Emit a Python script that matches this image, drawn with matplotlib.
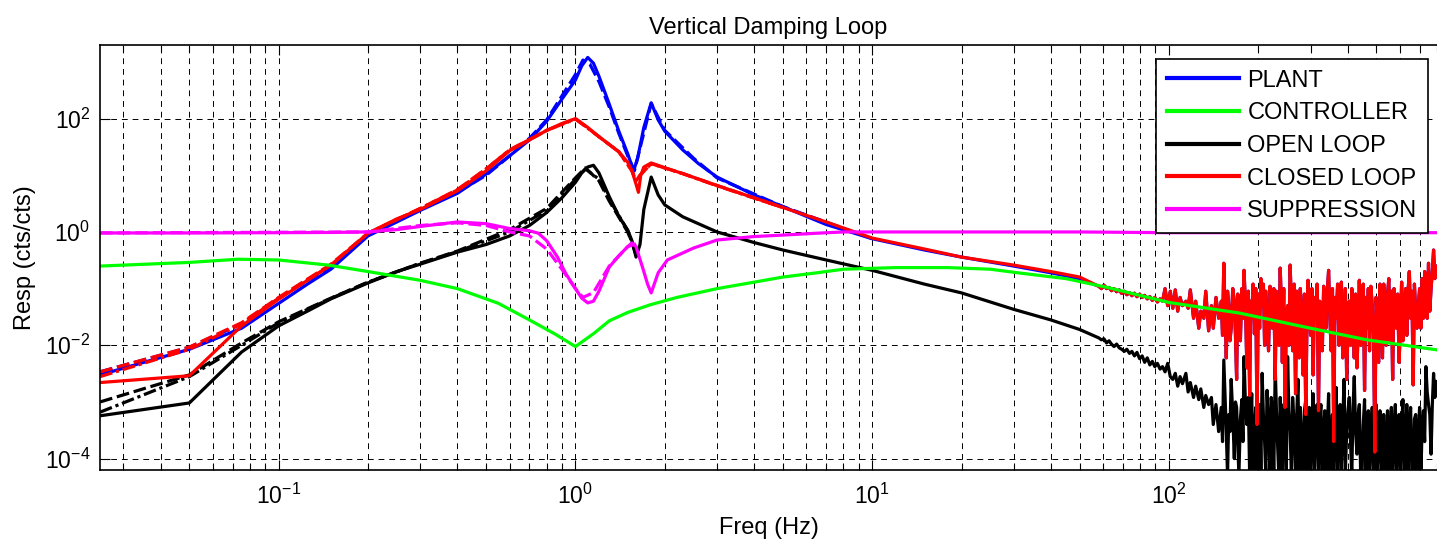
import matplotlib
matplotlib.use("Agg")
import matplotlib.pyplot as plt
from matplotlib.ticker import LogLocator, NullLocator, NullFormatter
from matplotlib.lines import Line2D

plt.rcParams['font.family'] = ['Liberation Sans', 'DejaVu Sans']
plt.rcParams['mathtext.fontset'] = 'custom'
plt.rcParams['mathtext.rm'] = 'Liberation Sans'

# ---------------- data ----------------
# PLANT, solid (above 58 Hz it sits under the closed loop trace)
plant_f = [0.025, 0.05, 0.075, 0.1, 0.125, 0.15, 0.2, 0.25, 0.3, 0.4, 0.5, 0.6, 0.7, 0.8,
           0.9, 1.0, 1.05, 1.1, 1.15, 1.2, 1.3, 1.4, 1.5, 1.57, 1.62, 1.7, 1.8, 1.9, 2.0,
           2.3, 2.6, 3.0, 4.0, 5.0, 7.0, 10, 15, 20, 30, 40, 50]
plant_v = [0.0030, 0.0085, 0.020, 0.055, 0.12, 0.22, 0.85, 1.5, 2.4, 4.8, 10.5, 22, 42, 90,
           220, 480, 850, 1200, 950, 560, 180, 60, 24, 12, 20, 70, 190, 95, 60,
           28, 16, 9.3, 4.5, 2.8, 1.35, 0.76, 0.48, 0.36, 0.25, 0.19, 0.15]
# PLANT, dashed
plant2_f = [0.025, 0.05, 0.075, 0.1, 0.15, 0.2, 0.3, 0.4, 0.5, 0.6, 0.7, 0.8, 0.9, 1.0,
            1.06, 1.12, 1.2, 1.3, 1.4, 1.5, 1.58, 1.65, 1.8, 2.0, 2.5, 3.0, 5.0, 10]
plant2_v = [0.0034, 0.0092, 0.024, 0.068, 0.25, 0.9, 2.5, 5.0, 10, 22, 45, 95, 250, 600,
            1080, 900, 450, 160, 55, 22, 12, 30, 185, 62, 20, 9.0, 2.8, 0.76]

# CONTROLLER
ctrl_f = [0.025, 0.05, 0.073, 0.1, 0.147, 0.2, 0.3, 0.4, 0.55, 0.7, 0.85, 1.0, 1.15, 1.3,
          1.5, 1.79, 2.2, 3.0, 4.0, 5.0, 6.5, 8.0, 12, 18, 25, 31, 45, 62, 100, 173, 300,
          464, 800]
ctrl_v = [0.25, 0.29, 0.33, 0.32, 0.26, 0.2, 0.14, 0.10, 0.055, 0.028, 0.016, 0.0095, 0.016,
          0.027, 0.038, 0.052, 0.07, 0.10, 0.13, 0.16, 0.19, 0.22, 0.235, 0.235, 0.22, 0.19,
          0.15, 0.105, 0.057, 0.037, 0.02, 0.0125, 0.0083]

# noisy high end, part 1 (58 - 147 Hz)
hf1_f = [58, 59.2, 60.4, 61.6, 62.8, 64, 65.3, 66.6, 68, 69.3,
         70.7, 72.1, 73.6, 75, 76.5, 78, 79.6, 81.2, 82.8, 84.5,
         86.2, 87.9, 89.6, 91.4, 93.3, 95.1, 97, 99, 101, 103,
         105, 107, 109, 111, 114, 116, 118, 121, 123, 126,
         128, 131, 133, 136, 139, 141, 144, 147]
# noisy high end, part 2 (150 - 795 Hz)
hf2_f = [150, 151.5, 153, 154.5, 156, 157.5, 159, 160.5, 162, 164,
         166, 167.5, 169, 170.5, 172, 174, 176, 177.5, 179, 181,
         183, 185, 187, 188.5, 190, 192, 194, 196, 198, 200,
         202, 204, 206, 208, 210, 212, 214, 216.5, 219, 221,
         223, 225.5, 228, 230, 232, 234.5, 237, 239, 241, 243.5,
         246, 248.5, 251, 253.5, 256, 258.5, 261, 264, 267, 269.5,
         272, 274.5, 277, 280, 283, 286, 289, 291.5, 294, 297,
         300, 303, 306, 309, 312, 315.5, 319, 322, 325, 328.5,
         332, 335, 338, 341.5, 345, 348.5, 352, 355.5, 359, 362.5,
         366, 370, 374, 377.5, 381, 385, 389, 393, 397, 401,
         405, 409, 413, 417, 421, 425.5, 430, 434, 438, 442.5,
         447, 451.5, 456, 460.5, 465, 469.5, 474, 479, 484, 489,
         494, 498.5, 503, 508.5, 514, 519, 524, 529, 534, 539.5,
         545, 550.5, 556, 561.5, 567, 573, 579, 584.5, 590, 596,
         602, 608, 614, 620.5, 627, 633, 639, 645.5, 652, 658.5,
         665, 671.5, 678, 685, 692, 699, 706, 713, 720, 727,
         734, 741.5, 749, 756.5, 764, 771.5, 779, 787, 795]

# OPEN LOOP, solid
open_f = [0.025, 0.05, 0.075, 0.1, 0.125, 0.15, 0.2, 0.25, 0.3, 0.4, 0.5, 0.6, 0.7, 0.8,
          0.9, 1.0, 1.05, 1.1, 1.15, 1.2, 1.3, 1.4, 1.5, 1.55, 1.6, 1.65, 1.7, 1.8, 1.9,
          2.0, 2.3, 3.0, 4.0, 5.0, 7.0, 10, 15, 20, 30, 40, 50]
open_v = [5.7e-4, 9.6e-4, 0.0076, 0.022, 0.04, 0.066, 0.126, 0.2, 0.27, 0.44, 0.6, 0.85,
          1.3, 2.2, 4.0, 7.5, 11, 14, 15, 11, 4.2, 1.9, 1.08, 0.7, 0.36, 0.6, 2.5, 9.3, 4.5,
          3.0, 1.85, 1.0, 0.65, 0.48, 0.32, 0.21, 0.12, 0.084, 0.043, 0.028, 0.019]
open_hf1 = [0.0135, 0.0125, 0.013, 0.011, 0.012, 0.0105, 0.0095, 0.0105, 0.009, 0.0085,
            0.0078, 0.0085, 0.0072, 0.0078, 0.0065, 0.0075, 0.0058, 0.0065, 0.005, 0.006,
            0.0045, 0.0052, 0.0042, 0.0048, 0.0038, 0.0042, 0.0034, 0.0048, 0.0028, 0.0025,
            0.0032, 0.0019, 0.0028, 0.0021, 0.0032, 0.0015, 0.0022, 0.0012, 0.0019, 0.0011,
            0.0017, 0.0008, 0.0013, 0.0009, 0.0012, 0.0004, 0.0009, 0.0003]
open_hf2 = [0.0008, 0.0002, 0.0055, 0.0012, 0.0003, 0.00005, 0.0006, 0.0003, 0.0025, 0.0006,
            0.0001, 0.001, 0.0008, 0.0002, 0.00005, 0.0005, 0.0011, 0.0002, 0.0063, 0.0009,
            0.0004, 0.0012, 0.00005, 0.0005, 0.0014, 0.00005, 0.0003, 0.0008, 0.00004, 0.0004,
            0.0009, 0.00006, 0.0032, 0.0006, 0.0002, 0.00005, 0.0016, 0.0004, 0.00005, 0.0012,
            0.0007, 0.00005, 0.0042, 0.0008, 0.0002, 0.00005, 0.0012, 0.0003, 0.00005, 0.0009,
            0.0006, 0.00005, 0.0063, 0.0007, 0.0003, 0.00005, 0.0012, 0.0004, 0.00005, 0.0006,
            0.0025, 0.00005, 0.0008, 0.0002, 0.00004, 0.0007, 0.0011, 0.00005, 0.0002, 0.0008,
            0.00005, 0.0003, 0.0014, 0.00005, 0.0004, 0.0009, 0.00004, 0.0005, 0.0009, 0.00005,
            0.0003, 0.0007, 0.00005, 0.0003, 0.0014, 0.00005, 0.0002, 0.0006, 0.00004, 0.0004,
            0.0018, 0.00005, 0.0005, 0.0009, 0.00005, 0.0004, 0.0025, 0.00006, 0.0003, 0.0007,
            0.0012, 0.0002, 0.00005, 0.0008, 0.0028, 0.0003, 0.00012, 0.0006, 0.0009, 0.00005,
            0.00005, 0.0004, 0.0011, 0.00005, 0.0003, 0.0007, 0.00004, 0.0003, 0.0008, 0.00005,
            0.0003, 0.0009, 0.00005, 0.0002, 0.0007, 0.00005, 0.0002, 0.0006, 0.00005, 0.0002,
            0.0007, 0.00005, 0.0003, 0.0008, 0.00004, 0.0003, 0.0009, 0.00005, 0.0002, 0.0006,
            0.00005, 0.0003, 0.0011, 0.00005, 0.0003, 0.0009, 0.00005, 0.0004, 0.0008, 0.00005,
            0.00004, 0.0005, 0.0006, 0.00005, 0.0003, 0.0008, 0.00005, 0.0004, 0.0007, 0.0002,
            0.0042, 0.0015, 0.0009, 0.0006, 0.00012, 0.0009, 0.0032, 0.0012, 0.0023]
# OPEN LOOP, dashed and dash-dot
open2_f = [0.025, 0.05, 0.075, 0.1, 0.15, 0.2, 0.3, 0.4, 0.6, 0.8, 1.0, 1.08, 1.2, 1.3,
           1.5, 1.6]
open2_v = [0.0010, 0.0030, 0.011, 0.026, 0.068, 0.13, 0.28, 0.46, 1.1, 2.6, 9.0, 13.5, 8.0,
           3.5, 1.0, 0.42]
open3_v = [0.00066, 0.0028, 0.010, 0.025, 0.067, 0.13, 0.28, 0.45, 1.0, 2.4, 8.5, 13.0,
           8.5, 3.8, 1.05, 0.4]

# CLOSED LOOP, solid
closed_f = [0.025, 0.05, 0.075, 0.1, 0.125, 0.15, 0.2, 0.25, 0.3, 0.4, 0.5, 0.6, 0.7, 0.8,
            0.9, 1.0, 1.1, 1.2, 1.3, 1.4, 1.5, 1.55, 1.6, 1.63, 1.66, 1.7, 1.8, 2.0, 2.3,
            3.0, 4.0, 5.0, 7.0, 10, 15, 20, 30, 40, 50]
closed_v = [0.0022, 0.0029, 0.022, 0.065, 0.14, 0.26, 0.95, 1.7, 2.5, 5.3, 12, 27, 42, 62,
            82, 100, 70, 48, 35, 26, 17, 12, 7, 5, 10, 14, 16.5, 13.6, 10.7,
            6.6, 4.0, 2.7, 1.5, 0.78, 0.5, 0.36, 0.26, 0.2, 0.16]
closed_hf1 = [0.11, 0.10, 0.115, 0.10, 0.105, 0.092, 0.10, 0.088, 0.095, 0.082,
              0.09, 0.078, 0.085, 0.075, 0.083, 0.072, 0.08, 0.07, 0.076, 0.066,
              0.072, 0.062, 0.07, 0.058, 0.066, 0.06, 0.10, 0.05, 0.09, 0.045,
              0.095, 0.04, 0.07, 0.05, 0.06, 0.045, 0.095, 0.03, 0.06, 0.02,
              0.04, 0.03, 0.09, 0.018, 0.05, 0.02, 0.07, 0.03]
closed_hf2 = [0.06, 0.015, 0.28, 0.04, 0.006, 0.09, 0.05, 0.012, 0.02, 0.1,
              0.06, 0.015, 0.0025, 0.08, 0.03, 0.012, 0.1, 0.03, 0.21, 0.05,
              0.004, 0.09, 0.0013, 0.06, 0.03, 0.12, 0.016, 0.1, 0.0004, 0.08,
              0.02, 0.15, 0.05, 0.12, 0.01, 0.09, 0.03, 0.008, 0.11, 0.05,
              0.02, 0.1, 0.0025, 0.09, 0.04, 0.01, 0.23, 0.06, 0.005, 0.1,
              0.0008, 0.03, 0.05, 0.01, 0.26, 0.05, 0.008, 0.12, 0.0014, 0.09,
              0.04, 0.006, 0.1, 0.03, 0.003, 0.08, 0.0006, 0.02, 0.14, 0.04,
              0.015, 0.1, 0.003, 0.07, 0.03, 0.12, 0.0007, 0.06, 0.03, 0.008,
              0.11, 0.04, 0.02, 0.09, 0.21, 0.03, 0.008, 0.1, 0.0002, 0.07,
              0.03, 0.12, 0.01, 0.05, 0.13, 0.006, 0.02, 0.1, 0.0025, 0.02,
              0.06, 0.01, 0.1, 0.03, 0.006, 0.08, 0.004, 0.02, 0.14, 0.01,
              0.03, 0.12, 0.0016, 0.07, 0.02, 0.1, 0.008, 0.11, 0.05, 0.015,
              0.00013, 0.07, 0.03, 0.005, 0.12, 0.04, 0.006, 0.12, 0.05, 0.01,
              0.08, 0.15, 0.012, 0.09, 0.0025, 0.1, 0.06, 0.02, 0.08, 0.005,
              0.02, 0.13, 0.012, 0.04, 0.1, 0.015, 0.09, 0.2, 0.03, 0.09,
              0.002, 0.12, 0.04, 0.02, 0.05, 0.1, 0.02, 0.15, 0.03, 0.2,
              0.1, 0.03, 0.28, 0.04, 0.1, 0.2, 0.48, 0.15, 0.25]
# CLOSED LOOP, dashed and dash-dot
closed2_f = [0.025, 0.05, 0.075, 0.1, 0.15, 0.2, 0.3, 0.4, 0.5, 0.6, 0.8, 1.0, 1.2, 1.4,
             1.55, 1.6, 1.65, 1.8, 2.3, 3.0, 5.0]
closed2_v = [0.0034, 0.0093, 0.025, 0.07, 0.27, 0.95, 2.6, 5.6, 13, 28, 62, 100, 48, 26,
             12, 8, 10, 16, 10.7, 6.6, 2.7]
closed3_v = [0.0028, 0.0085, 0.024, 0.068, 0.26, 0.95, 2.6, 5.5, 13, 28, 62, 98, 48, 26,
             12, 8, 10, 16, 10.7, 6.5, 2.7]

# SUPPRESSION, solid
supp_f = [0.025, 0.05, 0.1, 0.15, 0.2, 0.25, 0.3, 0.4, 0.5, 0.6, 0.7, 0.75, 0.8, 0.87,
          0.93, 1.0, 1.05, 1.1, 1.15, 1.2, 1.3, 1.4, 1.5, 1.55, 1.6, 1.7, 1.75, 1.8, 1.9,
          2.04, 2.5, 3.0, 4.0, 5.0, 6.5, 8.0, 20, 50, 100, 800]
supp_v = [0.96, 0.96, 0.97, 0.98, 1.0, 1.1, 1.25, 1.5, 1.4, 1.15, 1.05, 0.95, 0.7, 0.36,
          0.18, 0.10, 0.068, 0.056, 0.06, 0.09, 0.24, 0.38, 0.55, 0.64, 0.55, 0.2, 0.12,
          0.084, 0.19, 0.32, 0.52, 0.72, 0.83, 0.88, 0.95, 1.0, 1.0, 1.0, 0.97, 0.97]
# SUPPRESSION, dashed
supp2_f = [0.025, 0.2, 0.3, 0.4, 0.5, 0.6, 0.7, 0.8, 0.9, 1.0, 1.06, 1.15, 1.3, 1.5, 1.6]
supp2_v = [0.96, 1.0, 1.3, 1.45, 1.3, 1.0, 0.85, 0.5, 0.22, 0.1, 0.07, 0.085, 0.25, 0.55,
           0.62]

labels = ['PLANT', 'CONTROLLER', 'OPEN LOOP', 'CLOSED LOOP', 'SUPPRESSION']
colors = ['#0000ff', '#00ff00', '#000000', '#ff0000', '#ff00ff']

# ---------------- figure ----------------
fig = plt.figure(figsize=(14.37, 5.48), dpi=100)
ax = fig.add_axes([100 / 1437, 78 / 548, 1337 / 1437, 425 / 548])

hf_f = hf1_f + hf2_f
lw = 2.3
dash = (0, (4, 1.5))
dashdot = (0, (4, 1.2, 1, 1.2))
ax.plot(plant_f + hf_f, plant_v + closed_hf1 + closed_hf2, color=colors[0], lw=lw, zorder=2)
ax.plot(plant2_f, plant2_v, color=colors[0], lw=lw, ls=dash, zorder=2)
ax.plot(open_f + hf_f, open_v + open_hf1 + open_hf2, color=colors[2], lw=lw, zorder=2.1)
ax.plot(open2_f, open2_v, color=colors[2], lw=lw, ls=dash, zorder=2.1)
ax.plot(open2_f, open3_v, color=colors[2], lw=lw, ls=dashdot, zorder=2.1)
ax.plot(closed_f + hf_f, closed_v + closed_hf1 + closed_hf2, color=colors[3], lw=lw,
        zorder=2.2)
ax.plot(closed2_f, closed2_v, color=colors[3], lw=lw, ls=dash, zorder=2.2)
ax.plot(closed2_f, closed3_v, color=colors[3], lw=lw, ls=dashdot, zorder=2.2)
ax.plot(ctrl_f, ctrl_v, color=colors[1], lw=lw, zorder=2.3)
ax.plot(supp_f, supp_v, color=colors[4], lw=lw, zorder=2.4)
ax.plot(supp2_f, supp2_v, color=colors[4], lw=lw, ls=dash, zorder=2.4)

ax.set_xscale('log')
ax.set_yscale('log')
ax.set_xlim(0.025, 800)
ax.set_ylim(6.3e-5, 1990)

ax.xaxis.set_major_locator(LogLocator(base=10, numticks=10))
ax.xaxis.set_minor_locator(LogLocator(base=10, subs=range(2, 10), numticks=20))
ax.xaxis.set_minor_formatter(NullFormatter())
ax.set_yticks([1e-4, 1e-2, 1e0, 1e2])
ax.yaxis.set_minor_locator(NullLocator())

ax.grid(True, which='major', axis='both', color='k', lw=0.7, ls=(0, (6, 5)))
ax.grid(True, which='minor', axis='x', color='k', lw=0.7, ls=(0, (6, 5)))
ax.set_axisbelow(True)

ax.tick_params(which='both', direction='in', top=True, right=False, width=0.8)
ax.tick_params(which='major', length=7, labelsize=16.5)
ax.tick_params(axis='x', which='major', pad=10)
ax.tick_params(axis='y', which='major', pad=7)
ax.tick_params(which='minor', length=5)
for s in ['left', 'bottom', 'top']:
    ax.spines[s].set_linewidth(1.2)
ax.spines['right'].set_visible(False)

ax.set_title('Vertical Damping Loop', fontsize=17, pad=8)
ax.set_xlabel('Freq (Hz)', fontsize=17, labelpad=6)
ax.set_ylabel('Resp (cts/cts)', fontsize=17, labelpad=6)

handles = [Line2D([], [], color=c, lw=3) for c in colors]
leg = ax.legend(handles, labels, loc='upper right', bbox_to_anchor=(0.9933, 0.967),
                borderaxespad=0, fontsize=17, fancybox=False, framealpha=1,
                edgecolor='k', handlelength=3.05, handletextpad=0.35, labelspacing=0.45,
                borderpad=0.45)
leg.get_frame().set_linewidth(1.2)
leg.set_zorder(5)

fig.savefig('out.png', dpi=100)
